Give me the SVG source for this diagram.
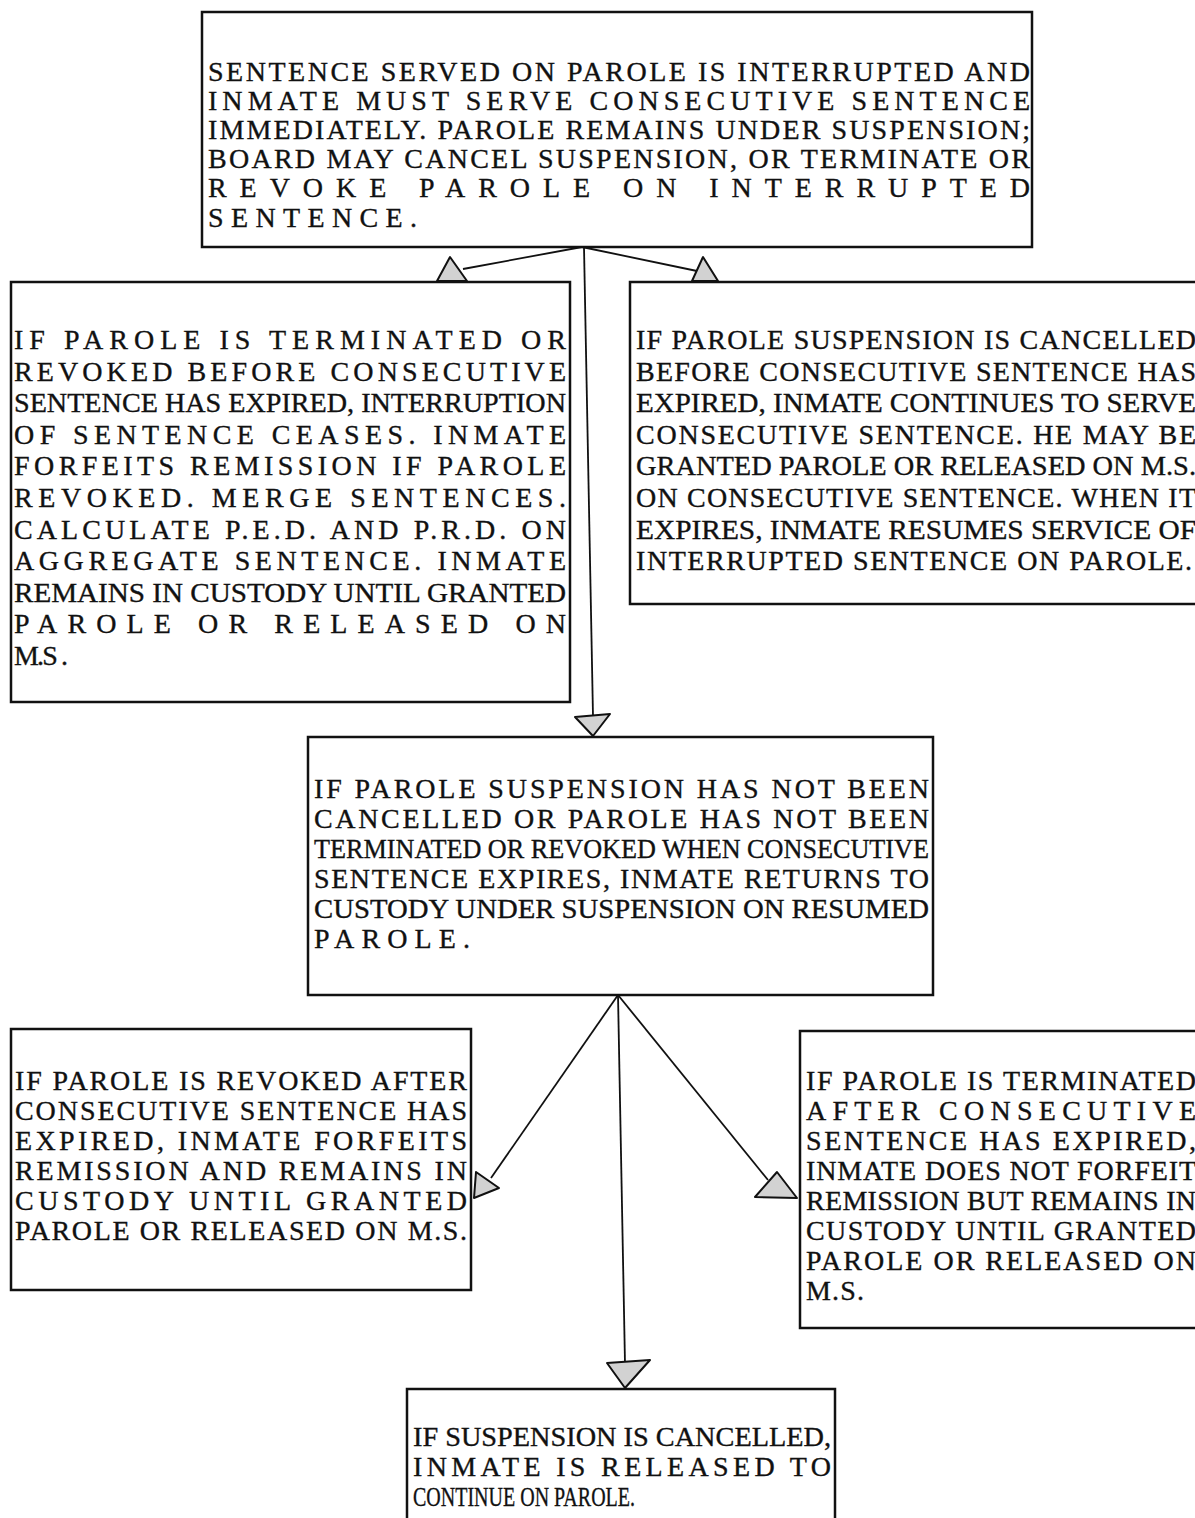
<svg xmlns="http://www.w3.org/2000/svg" width="1195" height="1518" viewBox="0 0 1195 1518">
<style>
.box{fill:#fff;stroke:#111;stroke-width:2.5}
.t{font-family:"Liberation Serif","Times New Roman",serif;font-size:28px;fill:#111;stroke:#111;stroke-width:0.35}
.c{stroke:#111;stroke-width:1.8;fill:none}
.ah{fill:#d2d2d2;stroke:#111;stroke-width:2;stroke-linejoin:round}
</style>
<rect width="1195" height="1518" fill="#fff"/>
<g id="top">
<rect class="box" x="202" y="12" width="830" height="235"/>
<text class="t" x="208" y="81" textLength="822" lengthAdjust="spacing">SENTENCE SERVED ON PAROLE IS INTERRUPTED AND</text>
<text class="t" x="208" y="110" textLength="822" lengthAdjust="spacing">INMATE MUST SERVE CONSECUTIVE SENTENCE</text>
<text class="t" x="208" y="139" textLength="822" lengthAdjust="spacing">IMMEDIATELY. PAROLE REMAINS UNDER SUSPENSION;</text>
<text class="t" x="208" y="168" textLength="822" lengthAdjust="spacing">BOARD MAY CANCEL SUSPENSION, OR TERMINATE OR</text>
<text class="t" x="208" y="197" textLength="822" lengthAdjust="spacing">REVOKE PAROLE ON INTERRUPTED</text>
<text class="t" x="208" y="227" textLength="209" lengthAdjust="spacing">SENTENCE.</text>
</g>
<g id="left1">
<rect class="box" x="11" y="282" width="559" height="420"/>
<text class="t" x="14" y="349" textLength="552" lengthAdjust="spacing">IF PAROLE IS TERMINATED OR</text>
<text class="t" x="14" y="380.6" textLength="552" lengthAdjust="spacing">REVOKED BEFORE CONSECUTIVE</text>
<text class="t" x="14" y="412.2" textLength="552" lengthAdjust="spacingAndGlyphs">SENTENCE HAS EXPIRED, INTERRUPTION</text>
<text class="t" x="14" y="443.8" textLength="552" lengthAdjust="spacing">OF SENTENCE CEASES. INMATE</text>
<text class="t" x="14" y="475.4" textLength="552" lengthAdjust="spacing">FORFEITS REMISSION IF PAROLE</text>
<text class="t" x="14" y="507" textLength="552" lengthAdjust="spacing">REVOKED. MERGE SENTENCES.</text>
<text class="t" x="14" y="538.6" textLength="552" lengthAdjust="spacing">CALCULATE P.E.D. AND P.R.D. ON</text>
<text class="t" x="14" y="570.2" textLength="552" lengthAdjust="spacing">AGGREGATE SENTENCE. INMATE</text>
<text class="t" x="14" y="601.8" textLength="552" lengthAdjust="spacingAndGlyphs">REMAINS IN CUSTODY UNTIL GRANTED</text>
<text class="t" x="14" y="633.4" textLength="552" lengthAdjust="spacing">PAROLE OR RELEASED ON</text>
<text class="t" x="14" y="665" textLength="54" lengthAdjust="spacing">M.S .</text>
</g>
<g id="right1">
<rect class="box" x="630" y="282" width="590" height="322"/>
<text class="t" x="636" y="349" textLength="560" lengthAdjust="spacing">IF PAROLE SUSPENSION IS CANCELLED</text>
<text class="t" x="636" y="380.6" textLength="560" lengthAdjust="spacing">BEFORE CONSECUTIVE SENTENCE HAS</text>
<text class="t" x="636" y="412.2" textLength="560" lengthAdjust="spacingAndGlyphs">EXPIRED, INMATE CONTINUES TO SERVE</text>
<text class="t" x="636" y="443.8" textLength="560" lengthAdjust="spacing">CONSECUTIVE SENTENCE. HE MAY BE</text>
<text class="t" x="636" y="475.4" textLength="560" lengthAdjust="spacingAndGlyphs">GRANTED PAROLE OR RELEASED ON M.S.</text>
<text class="t" x="636" y="507" textLength="560" lengthAdjust="spacing">ON CONSECUTIVE SENTENCE. WHEN IT</text>
<text class="t" x="636" y="538.6" textLength="560" lengthAdjust="spacingAndGlyphs">EXPIRES, INMATE RESUMES SERVICE OF</text>
<text class="t" x="636" y="570.2" textLength="556" lengthAdjust="spacing">INTERRUPTED SENTENCE ON PAROLE.</text>
</g>
<g id="middle">
<rect class="box" x="308" y="737" width="625" height="258"/>
<text class="t" x="314" y="798" textLength="615" lengthAdjust="spacing">IF PAROLE SUSPENSION HAS NOT BEEN</text>
<text class="t" x="314" y="828" textLength="615" lengthAdjust="spacing">CANCELLED OR PAROLE HAS NOT BEEN</text>
<text class="t" x="314" y="858" textLength="615" lengthAdjust="spacingAndGlyphs">TERMINATED OR REVOKED WHEN CONSECUTIVE</text>
<text class="t" x="314" y="888" textLength="615" lengthAdjust="spacing">SENTENCE EXPIRES, INMATE RETURNS TO</text>
<text class="t" x="314" y="918" textLength="615" lengthAdjust="spacingAndGlyphs">CUSTODY UNDER SUSPENSION ON RESUMED</text>
<text class="t" x="314" y="948" textLength="156" lengthAdjust="spacing">PAROLE.</text>
</g>
<g id="left2">
<rect class="box" x="11" y="1029" width="460" height="261"/>
<text class="t" x="15" y="1090" textLength="452" lengthAdjust="spacing">IF PAROLE IS REVOKED AFTER</text>
<text class="t" x="15" y="1120" textLength="452" lengthAdjust="spacing">CONSECUTIVE SENTENCE HAS</text>
<text class="t" x="15" y="1150" textLength="452" lengthAdjust="spacing">EXPIRED, INMATE FORFEITS</text>
<text class="t" x="15" y="1180" textLength="452" lengthAdjust="spacing">REMISSION AND REMAINS IN</text>
<text class="t" x="15" y="1210" textLength="452" lengthAdjust="spacing">CUSTODY UNTIL GRANTED</text>
<text class="t" x="15" y="1240" textLength="452" lengthAdjust="spacing">PAROLE OR RELEASED ON M.S.</text>
</g>
<g id="right2">
<rect class="box" x="800" y="1031" width="420" height="297"/>
<text class="t" x="806" y="1090" textLength="390" lengthAdjust="spacing">IF PAROLE IS TERMINATED</text>
<text class="t" x="806" y="1120" textLength="390" lengthAdjust="spacing">AFTER CONSECUTIVE</text>
<text class="t" x="806" y="1150" textLength="390" lengthAdjust="spacing">SENTENCE HAS EXPIRED,</text>
<text class="t" x="806" y="1180" textLength="390" lengthAdjust="spacing">INMATE DOES NOT FORFEIT</text>
<text class="t" x="806" y="1210" textLength="390" lengthAdjust="spacing">REMISSION BUT REMAINS IN</text>
<text class="t" x="806" y="1240" textLength="390" lengthAdjust="spacing">CUSTODY UNTIL GRANTED</text>
<text class="t" x="806" y="1270" textLength="390" lengthAdjust="spacing">PAROLE OR RELEASED ON</text>
<text class="t" x="806" y="1300" textLength="58" lengthAdjust="spacing">M.S.</text>
</g>
<g id="bottom">
<rect class="box" x="407" y="1389" width="428" height="150"/>
<text class="t" x="413" y="1446" textLength="418" lengthAdjust="spacingAndGlyphs">IF SUSPENSION IS CANCELLED,</text>
<text class="t" x="413" y="1476" textLength="418" lengthAdjust="spacing">INMATE IS RELEASED TO</text>
<text class="t" x="413" y="1506" textLength="222" lengthAdjust="spacingAndGlyphs">CONTINUE ON PAROLE.</text>
</g>
<g id="connectors">
<line class="c" x1="582" y1="247" x2="463" y2="269"/>
<line class="c" x1="582" y1="247" x2="697" y2="271"/>
<line class="c" x1="584" y1="247" x2="593" y2="716"/>
<line class="c" x1="618" y1="995" x2="491" y2="1178"/>
<line class="c" x1="618" y1="995" x2="768" y2="1180"/>
<line class="c" x1="618" y1="995" x2="625" y2="1364"/>
<polygon class="ah" points="450,257 437,281 467,281"/>
<polygon class="ah" points="703,257 692,281 718,281"/>
<polygon class="ah" points="575,717 610,714 593,736"/>
<polygon class="ah" points="476,1172 499,1188 474,1198"/>
<polygon class="ah" points="777,1172 755,1197 797,1198"/>
<polygon class="ah" points="607,1363 650,1360 625,1388"/>
</g>
</svg>
